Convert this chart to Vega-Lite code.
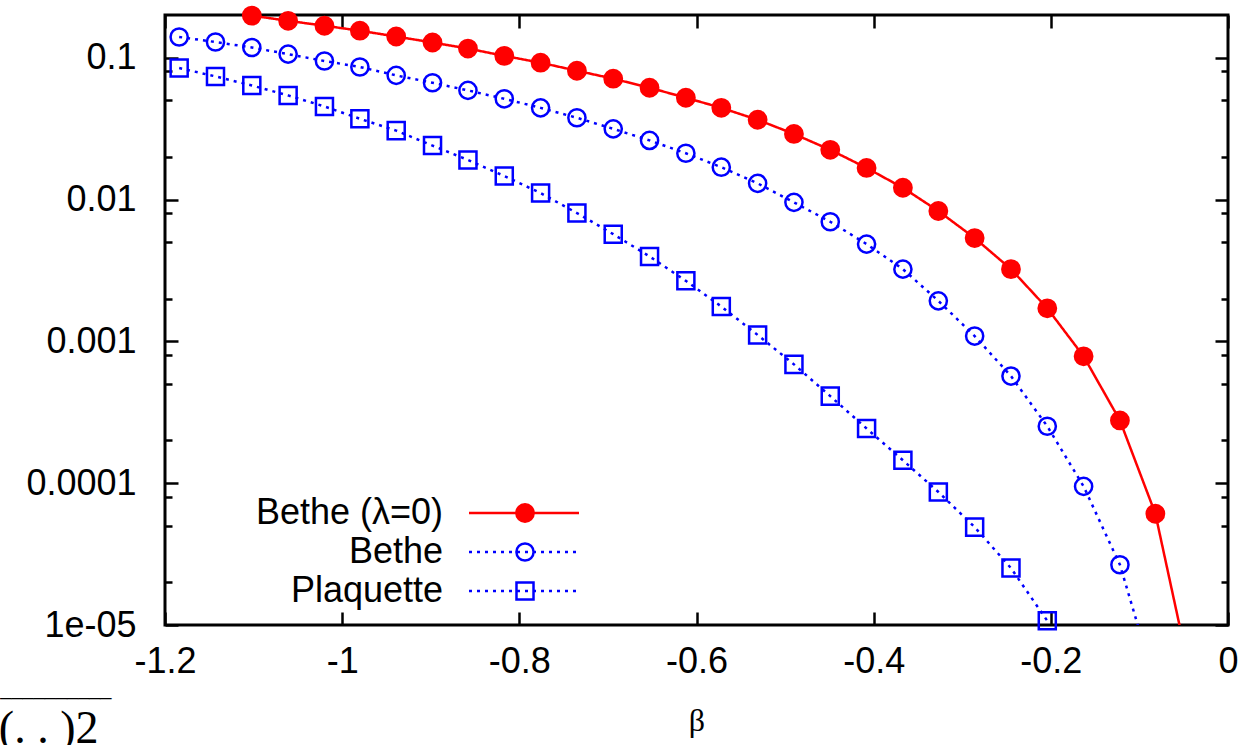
{
  "$schema": "https://vega.github.io/schema/vega-lite/v6.json",
  "width": 1063,
  "height": 610,
  "autosize": {"type": "none"},
  "padding": {"left": 165, "top": 15, "right": 27, "bottom": 120},
  "background": "white",
  "config": {
    "view": {"stroke": "black", "strokeWidth": 3},
    "font": "Liberation Sans",
    "axis": {"domain": false, "grid": false, "tickColor": "black", "tickWidth": 2.5, "labelColor": "black", "labelFont": "Liberation Sans"}
  },
  "data": {
    "values": [
      {"s": "Bethe (λ=0)", "b": -1.102, "v": 0.198},
      {"s": "Bethe (λ=0)", "b": -1.061, "v": 0.182},
      {"s": "Bethe (λ=0)", "b": -1.020, "v": 0.168},
      {"s": "Bethe (λ=0)", "b": -0.980, "v": 0.155},
      {"s": "Bethe (λ=0)", "b": -0.939, "v": 0.141},
      {"s": "Bethe (λ=0)", "b": -0.898, "v": 0.128},
      {"s": "Bethe (λ=0)", "b": -0.858, "v": 0.116},
      {"s": "Bethe (λ=0)", "b": -0.817, "v": 0.103},
      {"s": "Bethe (λ=0)", "b": -0.776, "v": 0.0922},
      {"s": "Bethe (λ=0)", "b": -0.735, "v": 0.0809},
      {"s": "Bethe (λ=0)", "b": -0.694, "v": 0.0711},
      {"s": "Bethe (λ=0)", "b": -0.653, "v": 0.0614},
      {"s": "Bethe (λ=0)", "b": -0.612, "v": 0.0522},
      {"s": "Bethe (λ=0)", "b": -0.572, "v": 0.0443},
      {"s": "Bethe (λ=0)", "b": -0.531, "v": 0.0365},
      {"s": "Bethe (λ=0)", "b": -0.490, "v": 0.0290},
      {"s": "Bethe (λ=0)", "b": -0.449, "v": 0.0224},
      {"s": "Bethe (λ=0)", "b": -0.408, "v": 0.0167},
      {"s": "Bethe (λ=0)", "b": -0.367, "v": 0.0121},
      {"s": "Bethe (λ=0)", "b": -0.327, "v": 0.0083},
      {"s": "Bethe (λ=0)", "b": -0.286, "v": 0.00535},
      {"s": "Bethe (λ=0)", "b": -0.245, "v": 0.00323},
      {"s": "Bethe (λ=0)", "b": -0.204, "v": 0.00171},
      {"s": "Bethe (λ=0)", "b": -0.163, "v": 0.000784},
      {"s": "Bethe (λ=0)", "b": -0.122, "v": 0.000277},
      {"s": "Bethe (λ=0)", "b": -0.082, "v": 0.0000609},
      {"s": "Bethe (λ=0)", "b": -0.041, "v": 0.000004},
      {"s": "Bethe", "b": -1.184, "v": 0.140},
      {"s": "Bethe", "b": -1.143, "v": 0.129},
      {"s": "Bethe", "b": -1.102, "v": 0.118},
      {"s": "Bethe", "b": -1.061, "v": 0.106},
      {"s": "Bethe", "b": -1.020, "v": 0.0948},
      {"s": "Bethe", "b": -0.980, "v": 0.0860},
      {"s": "Bethe", "b": -0.939, "v": 0.0750},
      {"s": "Bethe", "b": -0.898, "v": 0.0666},
      {"s": "Bethe", "b": -0.858, "v": 0.0588},
      {"s": "Bethe", "b": -0.817, "v": 0.0513},
      {"s": "Bethe", "b": -0.776, "v": 0.0443},
      {"s": "Bethe", "b": -0.735, "v": 0.0377},
      {"s": "Bethe", "b": -0.694, "v": 0.0315},
      {"s": "Bethe", "b": -0.653, "v": 0.0261},
      {"s": "Bethe", "b": -0.612, "v": 0.0212},
      {"s": "Bethe", "b": -0.572, "v": 0.0169},
      {"s": "Bethe", "b": -0.531, "v": 0.0130},
      {"s": "Bethe", "b": -0.490, "v": 0.00955},
      {"s": "Bethe", "b": -0.449, "v": 0.00697},
      {"s": "Bethe", "b": -0.408, "v": 0.00485},
      {"s": "Bethe", "b": -0.367, "v": 0.00323},
      {"s": "Bethe", "b": -0.327, "v": 0.00193},
      {"s": "Bethe", "b": -0.286, "v": 0.00109},
      {"s": "Bethe", "b": -0.245, "v": 0.000569},
      {"s": "Bethe", "b": -0.204, "v": 0.000252},
      {"s": "Bethe", "b": -0.163, "v": 0.0000949},
      {"s": "Bethe", "b": -0.122, "v": 0.0000266},
      {"s": "Bethe", "b": -0.082, "v": 0.0000038},
      {"s": "Plaquette", "b": -1.184, "v": 0.0845},
      {"s": "Plaquette", "b": -1.143, "v": 0.0738},
      {"s": "Plaquette", "b": -1.102, "v": 0.0637},
      {"s": "Plaquette", "b": -1.061, "v": 0.0542},
      {"s": "Plaquette", "b": -1.020, "v": 0.0453},
      {"s": "Plaquette", "b": -0.980, "v": 0.0371},
      {"s": "Plaquette", "b": -0.939, "v": 0.0306},
      {"s": "Plaquette", "b": -0.898, "v": 0.0240},
      {"s": "Plaquette", "b": -0.858, "v": 0.0190},
      {"s": "Plaquette", "b": -0.817, "v": 0.01466},
      {"s": "Plaquette", "b": -0.776, "v": 0.01111},
      {"s": "Plaquette", "b": -0.735, "v": 0.00803},
      {"s": "Plaquette", "b": -0.694, "v": 0.00570},
      {"s": "Plaquette", "b": -0.653, "v": 0.00397},
      {"s": "Plaquette", "b": -0.612, "v": 0.00267},
      {"s": "Plaquette", "b": -0.572, "v": 0.00176},
      {"s": "Plaquette", "b": -0.531, "v": 0.00111},
      {"s": "Plaquette", "b": -0.490, "v": 0.000688},
      {"s": "Plaquette", "b": -0.449, "v": 0.000411},
      {"s": "Plaquette", "b": -0.408, "v": 0.000243},
      {"s": "Plaquette", "b": -0.367, "v": 0.000145},
      {"s": "Plaquette", "b": -0.327, "v": 0.0000867},
      {"s": "Plaquette", "b": -0.286, "v": 0.0000490},
      {"s": "Plaquette", "b": -0.245, "v": 0.0000252},
      {"s": "Plaquette", "b": -0.204, "v": 0.0000107}
    ]
  },
  "layer": [
    {
      "mark": {"type": "line", "clip": true, "strokeWidth": 2.5},
      "encoding": {
        "x": {
          "field": "b", "type": "quantitative",
          "scale": {"domain": [-1.2, 0], "nice": false, "zero": false},
          "axis": {
            "orient": "bottom", "values": [-1.2, -1, -0.8, -0.6, -0.4, -0.2, 0],
            "labelExpr": "'' + datum.value", "labelFontSize": 36, "labelPadding": 32,
            "tickSize": -13, "labelFlush": false, "labelOverlap": false,
            "title": "β", "titleFont": "Liberation Serif", "titleFontSize": 32, "titleFontWeight": "normal",
            "titleY": 105, "titleBaseline": "alphabetic", "titleColor": "black"
          }
        },
        "y": {
          "field": "v", "type": "quantitative",
          "scale": {"type": "log", "domain": [0.00001, 0.2], "nice": false},
          "axis": {
            "orient": "left", "values": [0.00001, 0.0001, 0.001, 0.01, 0.1],
            "labelExpr": "datum.value < 0.00002 ? '1e-05' : '' + datum.value",
            "labelFontSize": 36, "labelPadding": 42, "tickSize": -13, "labelOverlap": false,
            "title": "(. . )2", "titleAngle": 0, "titleX": -67, "titleY": 727, "titleAlign": "right",
            "titleBaseline": "alphabetic", "titleFont": "Liberation Serif", "titleFontSize": 46,
            "titleFontWeight": "normal", "titleColor": "black"
          }
        },
        "color": {
          "field": "s", "type": "nominal",
          "scale": {"domain": ["Bethe (λ=0)", "Bethe", "Plaquette"], "range": ["#ff0000", "#0000ff", "#0000ff"]},
          "legend": {"orient": "none", "legendX": 341, "legendY": 480, "direction": "vertical", "title": null, "padding": 0,
            "symbolType": "M-5,0H5", "symbolSize": 484, "symbolStrokeWidth": 2.5,
            "labelFontSize": 36, "labelAlign": "right", "labelOffset": -99, "labelLimit": 500, "labelColor": "black", "rowPadding": 3}
        },
        "strokeDash": {
          "field": "s", "type": "nominal",
          "scale": {"domain": ["Bethe (λ=0)", "Bethe", "Plaquette"], "range": [[1, 0], [3, 5], [3, 5]]},
          "legend": {"orient": "none", "legendX": 341, "legendY": 480, "direction": "vertical", "title": null, "padding": 0,
            "symbolType": "M-5,0H5", "symbolSize": 484, "symbolStrokeWidth": 2.5,
            "labelFontSize": 36, "labelAlign": "right", "labelOffset": -99, "labelLimit": 500, "labelColor": "black", "rowPadding": 3}
        }
      }
    },
    {
      "transform": [{"filter": "datum.v >= 0.00001"}],
      "mark": {"type": "point", "filled": false, "strokeWidth": 2.5, "opacity": 1},
      "encoding": {
        "x": {
          "field": "b", "type": "quantitative",
          "axis": {"orient": "top", "labels": false, "tickSize": -13, "values": [-1.2, -1, -0.8, -0.6, -0.4, -0.2, 0], "title": null}
        },
        "y": {
          "field": "v", "type": "quantitative",
          "axis": {"orient": "right", "labels": false, "tickSize": -13, "values": [0.00001, 0.0001, 0.001, 0.01, 0.1], "title": null}
        },
        "color": {
          "field": "s", "type": "nominal",
          "scale": {"domain": ["Bethe (λ=0)", "Bethe", "Plaquette"], "range": ["#ff0000", "#0000ff", "#0000ff"]},
          "legend": {"orient": "none", "legendX": 342, "legendY": 480, "direction": "vertical", "title": null, "padding": 0,
            "symbolStrokeWidth": 2.5, "labelFontSize": 36, "labelLimit": 500, "labelColor": "transparent", "rowPadding": 3}
        },
        "shape": {
          "field": "s", "type": "nominal",
          "scale": {"domain": ["Bethe (λ=0)", "Bethe", "Plaquette"], "range": ["circle", "circle", "square"]},
          "legend": {"orient": "none", "legendX": 342, "legendY": 480, "direction": "vertical", "title": null, "padding": 0,
            "symbolStrokeWidth": 2.5, "labelFontSize": 36, "labelLimit": 500, "labelColor": "transparent", "rowPadding": 3}
        },
        "fill": {
          "field": "s", "type": "nominal",
          "scale": {"domain": ["Bethe (λ=0)", "Bethe", "Plaquette"], "range": ["#ff0000", "transparent", "transparent"]},
          "legend": {"orient": "none", "legendX": 342, "legendY": 480, "direction": "vertical", "title": null, "padding": 0,
            "symbolStrokeWidth": 2.5, "labelFontSize": 36, "labelLimit": 500, "labelColor": "transparent", "rowPadding": 3}
        },
        "size": {
          "field": "s", "type": "nominal",
          "scale": {"domain": ["Bethe (λ=0)", "Bethe", "Plaquette"], "range": [300, 290, 400]},
          "legend": {"orient": "none", "legendX": 342, "legendY": 480, "direction": "vertical", "title": null, "padding": 0,
            "symbolStrokeWidth": 2.5, "labelFontSize": 36, "labelLimit": 500, "labelColor": "transparent", "rowPadding": 3}
        }
      }
    },
    {
      "mark": {"type": "point", "opacity": 0},
      "encoding": {
        "x": {"field": "b", "type": "quantitative", "axis": null},
        "y": {
          "field": "v", "type": "quantitative",
          "axis": {"orient": "left", "labels": false, "tickSize": -7,
            "values": [0.00002, 0.00005, 0.00008, 0.0002, 0.0005, 0.0008, 0.002, 0.005, 0.008, 0.02, 0.05, 0.08],
            "title": "__________", "titleAngle": 0, "titleX": -54, "titleY": 679, "titleAlign": "right",
            "titleBaseline": "alphabetic", "titleFont": "Liberation Sans", "titleFontSize": 20, "titleFontWeight": "normal", "titleColor": "black"}
        }
      }
    },
    {
      "mark": {"type": "point", "opacity": 0},
      "encoding": {
        "x": {"field": "b", "type": "quantitative", "axis": null},
        "y": {
          "field": "v", "type": "quantitative",
          "axis": {"orient": "right", "labels": false, "tickSize": -7,
            "values": [0.00002, 0.00005, 0.00008, 0.0002, 0.0005, 0.0008, 0.002, 0.005, 0.008, 0.02, 0.05, 0.08],
            "title": null}
        }
      }
    }
  ],
  "resolve": {
    "axis": {"x": "independent", "y": "independent"},
    "legend": {"color": "independent", "strokeDash": "independent", "shape": "independent", "fill": "independent", "size": "independent"}
  }
}
